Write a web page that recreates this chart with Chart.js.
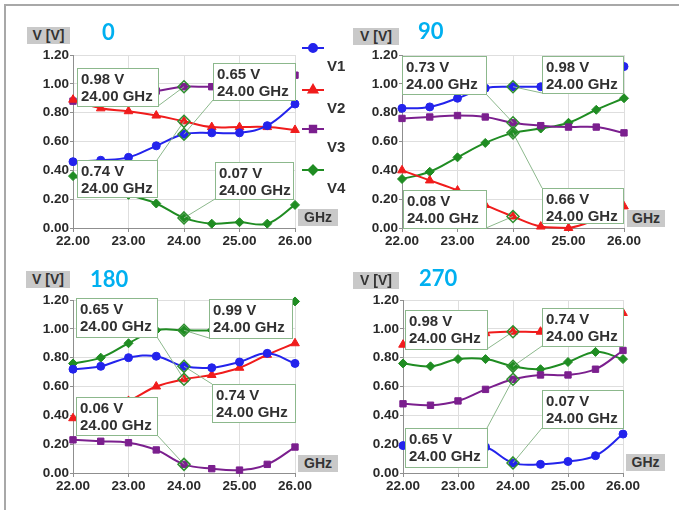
<!DOCTYPE html>
<html>
<head>
<meta charset="utf-8">
<script src="https://cdn.jsdelivr.net/npm/chart.js@4.4.1/dist/chart.umd.min.js"></script>
<style>
  body { margin: 0; background: #fff; width: 679px; height: 510px; overflow: hidden; position: relative; }
  #frame { position: absolute; left: 4px; top: 4px; right: 0; bottom: 0; border-top: 2px solid #a8a8a8; border-left: 2px solid #a8a8a8; }
  canvas { position: absolute; }
  .title { position: absolute; color: #00b0f0; font: 700 22px Lato, sans-serif; line-height: 22px; }
  .tag { position: absolute; background: #c9c9c9; color: #333; font: 700 14px "Liberation Sans", Arial, sans-serif; line-height: 17px; height: 17px; text-align: center; }
</style>
</head>
<body>
<div id="frame"></div>

<canvas id="c0" width="360" height="255" style="left:0;top:0"></canvas>
<canvas id="c90" width="339" height="255" style="left:340px;top:0"></canvas>
<canvas id="c180" width="340" height="255" style="left:0;top:255px"></canvas>
<canvas id="c270" width="339" height="255" style="left:340px;top:255px"></canvas>

<div class="title" style="left:102px;top:21px">0</div>
<div class="title" style="left:418px;top:20px">90</div>
<div class="title" style="left:90px;top:268px">180</div>
<div class="title" style="left:419px;top:267px">270</div>

<div class="tag" style="left:27px;top:27px;width:43px">V [V]</div>
<div class="tag" style="left:353px;top:28px;width:46px">V [V]</div>
<div class="tag" style="left:26px;top:271px;width:44px">V [V]</div>
<div class="tag" style="left:353px;top:272px;width:46px">V [V]</div>

<div class="tag" style="left:298px;top:209px;width:40px">GHz</div>
<div class="tag" style="left:627px;top:210px;width:38px">GHz</div>
<div class="tag" style="left:298px;top:455px;width:40px">GHz</div>
<div class="tag" style="left:626px;top:454px;width:39px">GHz</div>

<script>
// frequency points (GHz)
const freqs = [22, 22.5, 23, 23.5, 24, 24.5, 25, 25.5, 26];
const markerFreq = 24;
const seriesNames = ["V1", "V2", "V3", "V4"];
const xTicks = [22, 23, 24, 25, 26];
const yTicks = [0, 0.2, 0.4, 0.6, 0.8, 1.0, 1.2];

// phase 0
const v1_0 = [0.46, 0.47, 0.49, 0.57, 0.65, 0.66, 0.66, 0.71, 0.86];
const v2_0 = [0.89, 0.83, 0.81, 0.78, 0.74, 0.70, 0.70, 0.70, 0.68];
const v3_0 = [0.88, 0.91, 0.93, 0.95, 0.98, 0.98, 1.00, 1.02, 1.06];
const v4_0 = [0.36, 0.29, 0.23, 0.17, 0.07, 0.03, 0.04, 0.03, 0.16];

// phase 90
const v1_90 = [0.83, 0.84, 0.90, 0.97, 0.98, 0.98, 0.99, 1.03, 1.12];
const v2_90 = [0.40, 0.33, 0.26, 0.16, 0.08, 0.01, 0.00, 0.06, 0.15];
const v3_90 = [0.76, 0.77, 0.78, 0.77, 0.73, 0.71, 0.70, 0.70, 0.66];
const v4_90 = [0.34, 0.39, 0.49, 0.59, 0.66, 0.69, 0.73, 0.82, 0.90];

// phase 180
const v1_180 = [0.72, 0.74, 0.80, 0.81, 0.74, 0.73, 0.77, 0.83, 0.76];
const v2_180 = [0.38, 0.44, 0.50, 0.60, 0.65, 0.68, 0.73, 0.82, 0.90];
const v3_180 = [0.23, 0.22, 0.21, 0.16, 0.06, 0.03, 0.02, 0.06, 0.18];
const v4_180 = [0.76, 0.80, 0.90, 0.99, 0.99, 0.99, 1.01, 1.06, 1.19];

// phase 270
const v1_270 = [0.19, 0.19, 0.19, 0.18, 0.07, 0.06, 0.08, 0.12, 0.27];
const v2_270 = [0.89, 0.88, 0.93, 0.97, 0.98, 0.98, 1.00, 1.04, 1.11];
const v3_270 = [0.48, 0.47, 0.50, 0.58, 0.65, 0.68, 0.68, 0.72, 0.85];
const v4_270 = [0.76, 0.74, 0.79, 0.79, 0.74, 0.72, 0.77, 0.84, 0.79];

const colors = ["#2323ec", "#f01c1c", "#7b1f8e", "#1f8c22"];
const pointStyles = ["circle", "triangle", "rect", "rectRot"];
const pointSizes = [4, 5, 4.5, 4.5];

const tickFont = { family: '"Liberation Sans Narrow", "Liberation Sans", Arial, sans-serif', size: 13.5, weight: "bold" };

// marker readout boxes, drawn over the plot with a leader line to the point at 24 GHz
const boxPlugin = {
  id: "markerBoxes",
  afterDatasetsDraw(chart, args, opts) {
    const ctx = chart.ctx;
    const xs = chart.scales.x, ys = chart.scales.y;
    const k = freqs.indexOf(markerFreq);
    const boxes = opts.boxes || [];
    const items = boxes.map(b => {
      const val = chart.data.datasets[b.series].data[k].y;
      return { b, val, px: xs.getPixelForValue(markerFreq), py: ys.getPixelForValue(val) };
    });
    ctx.save();
    ctx.strokeStyle = "#8cb88c";
    ctx.lineWidth = 1;
    items.forEach(({ b, px, py }) => {
      const cx = b.x + (b.corner.includes("r") ? b.w : 0);
      const cy = b.y + (b.corner.includes("b") ? b.h : 0);
      ctx.beginPath();
      ctx.moveTo(cx, cy);
      ctx.lineTo(px, py);
      ctx.stroke();
    });
    // little marker diamonds on the points
    ctx.strokeStyle = "#2f8f2f";
    ctx.lineWidth = 1.5;
    items.forEach(({ px, py }) => {
      ctx.beginPath();
      ctx.moveTo(px, py - 6); ctx.lineTo(px + 6, py); ctx.lineTo(px, py + 6); ctx.lineTo(px - 6, py);
      ctx.closePath();
      ctx.stroke();
    });
    items.forEach(({ b, val }) => {
      ctx.fillStyle = "#fff";
      ctx.fillRect(b.x, b.y, b.w, b.h);
      ctx.strokeStyle = "#8cb88c";
      ctx.lineWidth = 1;
      ctx.strokeRect(b.x + 0.5, b.y + 0.5, b.w, b.h);
      ctx.fillStyle = "#303030";
      ctx.font = 'bold 15px "Liberation Sans", Arial, sans-serif';
      ctx.textAlign = "left";
      ctx.textBaseline = "alphabetic";
      ctx.fillText(val.toFixed(2) + " V", b.x + 4, b.y + 16);
      ctx.fillText(markerFreq.toFixed(2) + " GHz", b.x + 4, b.y + 33);
    });
    ctx.restore();
  }
};

// legend to the right of the first plot: symbol row, then the name below it
const sideLegend = {
  id: "sideLegend",
  afterDraw(chart, args, opts) {
    if (!opts.rows) return;
    const ctx = chart.ctx;
    ctx.save();
    chart.data.datasets.forEach((ds, i) => {
      const y = opts.rows[i];
      ctx.strokeStyle = ds.borderColor;
      ctx.fillStyle = ds.backgroundColor;
      ctx.lineWidth = 2;
      ctx.beginPath();
      ctx.moveTo(opts.x0, y);
      ctx.lineTo(opts.x1, y);
      ctx.stroke();
      Chart.helpers.drawPoint(ctx, { pointStyle: ds.pointStyle, radius: ds.pointRadius, rotation: 0, borderWidth: 1 }, (opts.x0 + opts.x1) / 2, y);
      ctx.fillStyle = "#303030";
      ctx.font = 'bold 15px "Liberation Sans", Arial, sans-serif';
      ctx.textBaseline = "middle";
      ctx.fillText(ds.label, opts.x1 + 3, y + 19);
    });
    ctx.restore();
  }
};

function makeChart(id, series, area, boxes, legend) {
  const canvas = document.getElementById(id);
  const W = canvas.width, H = canvas.height;
  const xAxisH = 26;
  return new Chart(canvas, {
    type: "line",
    data: {
      datasets: series.map((vals, i) => ({
        label: seriesNames[i],
        data: freqs.map((f, j) => ({ x: f, y: vals[j] })),
        borderColor: colors[i],
        backgroundColor: colors[i],
        pointStyle: pointStyles[i],
        pointRadius: pointSizes[i],
        pointBorderWidth: 1,
        borderWidth: 2,
        tension: 0.4,
        clip: false
      }))
    },
    options: {
      responsive: false,
      animation: false,
      events: [],
      layout: { padding: { left: 0, top: area.top, right: W - area.right, bottom: H - area.bottom - xAxisH } },
      scales: {
        x: {
          type: "linear", min: 22, max: 26,
          afterFit: s => { s.height = xAxisH; },
          afterBuildTicks: s => { s.ticks = xTicks.map(v => ({ value: v })); },
          ticks: { callback: v => v.toFixed(2), color: "#2a2a2a", font: tickFont, padding: 1, maxRotation: 0, autoSkip: false },
          grid: { color: "#dedede", tickColor: "#8f8f8f", tickLength: 4 },
          border: { color: "#8f8f8f", width: 1 }
        },
        y: {
          min: 0, max: 1.2,
          afterFit: s => { s.width = area.left; },
          afterBuildTicks: s => { s.ticks = yTicks.map(v => ({ value: v })); },
          ticks: { callback: v => v.toFixed(2), color: "#2a2a2a", font: tickFont, padding: 1 },
          grid: { color: "#dedede", tickColor: "#8f8f8f", tickLength: 3 },
          border: { color: "#8f8f8f", width: 1 }
        }
      },
      plugins: {
        legend: { display: false },
        tooltip: { enabled: false },
        markerBoxes: { boxes },
        sideLegend: legend || {}
      }
    },
    plugins: [boxPlugin, sideLegend]
  });
}

makeChart("c0", [v1_0, v2_0, v3_0, v4_0], { left: 73, right: 295, top: 55, bottom: 228 }, [
  { series: 2, x: 77, y: 68, w: 81, h: 38, corner: "br" },
  { series: 0, x: 213, y: 63, w: 82, h: 37, corner: "bl" },
  { series: 1, x: 77, y: 160, w: 80, h: 37, corner: "tr" },
  { series: 3, x: 215, y: 162, w: 78, h: 37, corner: "bl" }
], { x0: 302, x1: 324, rows: [48, 90, 129, 170] });

makeChart("c90", [v1_90, v2_90, v3_90, v4_90], { left: 62, right: 284, top: 55, bottom: 228 }, [
  { series: 2, x: 62, y: 56, w: 84, h: 38, corner: "br" },
  { series: 0, x: 202, y: 56, w: 81, h: 37, corner: "bl" },
  { series: 1, x: 63, y: 190, w: 83, h: 38, corner: "br" },
  { series: 3, x: 202, y: 188, w: 81, h: 35, corner: "tl" }
]);

makeChart("c180", [v1_180, v2_180, v3_180, v4_180], { left: 73, right: 295, top: 45, bottom: 218 }, [
  { series: 1, x: 76, y: 43, w: 81, h: 39, corner: "br" },
  { series: 3, x: 209, y: 44, w: 83, h: 39, corner: "bl" },
  { series: 0, x: 212, y: 129, w: 83, h: 38, corner: "tl" },
  { series: 2, x: 76, y: 142, w: 81, h: 38, corner: "br" }
]);

makeChart("c270", [v1_270, v2_270, v3_270, v4_270], { left: 63, right: 283, top: 45, bottom: 218 }, [
  { series: 1, x: 65, y: 55, w: 82, h: 39, corner: "br" },
  { series: 3, x: 202, y: 53, w: 81, h: 38, corner: "bl" },
  { series: 0, x: 202, y: 135, w: 81, h: 38, corner: "bl" },
  { series: 2, x: 65, y: 173, w: 82, h: 39, corner: "tr" }
]);
</script>
</body>
</html>
